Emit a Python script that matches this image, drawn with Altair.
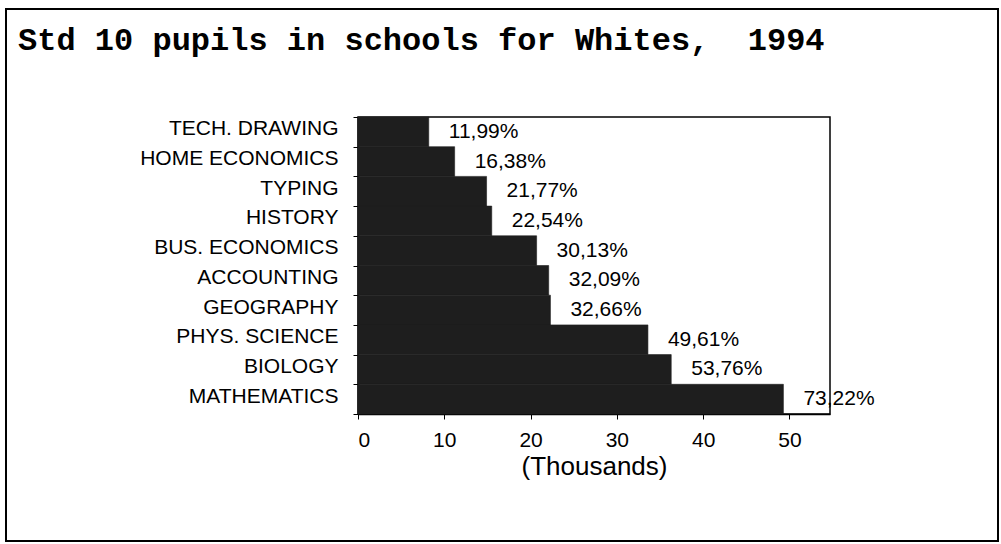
import altair as alt
import pandas as pd

# ---- data ----
subjects = ["TECH. DRAWING", "HOME ECONOMICS", "TYPING", "HISTORY", "BUS. ECONOMICS",
            "ACCOUNTING", "GEOGRAPHY", "PHYS. SCIENCE", "BIOLOGY", "MATHEMATICS"]
pupils_thousands = [8.2, 11.2, 14.9, 15.5, 20.7, 22.1, 22.3, 33.6, 36.3, 49.3]
pct_labels = ["11,99%", "16,38%", "21,77%", "22,54%", "30,13%",
              "32,09%", "32,66%", "49,61%", "53,76%", "73,22%"]
x_ticks = [0, 10, 20, 30, 40, 50]
title_text = "Std 10 pupils in schools for Whites,\u00a0 1994"

df = pd.DataFrame({"subject": subjects, "pupils": pupils_thousands, "label": pct_labels})

W, H = 472, 297
SANS = "Liberation Sans"

x_enc = alt.X(
    "pupils:Q",
    scale=alt.Scale(domain=[0, 54.7], nice=False, zero=True),
    axis=alt.Axis(values=x_ticks, title="(Thousands)", grid=False, tickSize=5,
                  labelPadding=10, labelFontSize=21, labelFont=SANS,
                  titleFont=SANS, titleFontSize=26, titleFontWeight="normal",
                  titlePadding=3, labelColor="black", titleColor="black",
                  domainColor="black", tickColor="black", domainWidth=1.5),
)
y_enc = alt.Y(
    "subject:N",
    sort=subjects,
    scale=alt.Scale(paddingInner=0, paddingOuter=0),
    axis=alt.Axis(title=None, tickBand="extent", tickSize=5, labelPadding=15,
                  labelFontSize=21, labelFont=SANS, labelColor="black",
                  labelLimit=400, labelOffset=-3, domainColor="black",
                  tickColor="black", domainWidth=1.5),
)

bars = alt.Chart(df).mark_bar(color="#1e1e1e", stroke="#1e1e1e", strokeWidth=0.6).encode(
    x=x_enc, y=y_enc
)

labels = alt.Chart(df).mark_text(
    align="left", baseline="middle", dx=20, fontSize=21, font=SANS, color="black"
).encode(x="pupils:Q", y=alt.Y("subject:N", sort=subjects), text="label:N")

border = alt.Chart(pd.DataFrame({"k": [0]})).mark_rect(
    fillOpacity=0, stroke="black", strokeWidth=2
).encode(x=alt.value(-352), x2=alt.value(640), y=alt.value(-108), y2=alt.value(424))

chart = alt.layer(bars, labels, border).properties(
    width=W,
    height=H,
    title=alt.TitleParams(
        text=title_text, anchor="start", frame="group", dx=-340, offset=-49,
        font="Liberation Mono", fontSize=32, fontWeight="bold", color="black",
    ),
    autosize=alt.AutoSizeParams(type="none"),
    padding={"left": 358, "top": 117, "right": 171, "bottom": 130},
).configure_view(stroke="black", strokeWidth=1.5)

chart.save("out.html", embed_options={"renderer": "svg", "actions": False})
